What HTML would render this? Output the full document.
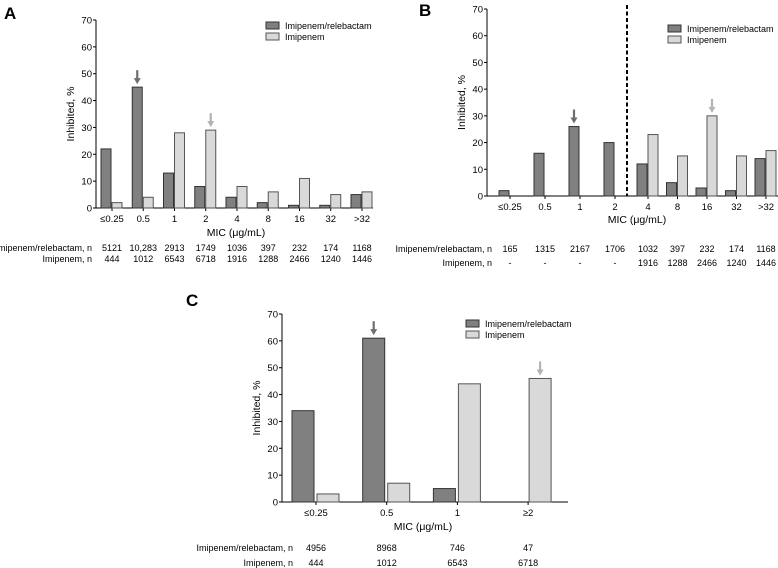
<!DOCTYPE html>
<html><head><meta charset="utf-8"><style>
html,body{margin:0;padding:0;background:#fff;}
svg{display:block;font-family:"Liberation Sans",Arial,sans-serif;}
</style></head><body>
<svg id="fig" width="778" height="568" viewBox="0 0 778 568" xmlns="http://www.w3.org/2000/svg"></svg>
<script>
// Panel A data
const catsA = ["≤0.25","0.5","1","2","4","8","16","32",">32"];
const irA = [22,45,13,8,4,2,1,1,5];
const impA = [2,4,28,29,8,6,11,5,6];
const nIrA = ["5121","10,283","2913","1749","1036","397","232","174","1168"];
const nImpA = ["444","1012","6543","6718","1916","1288","2466","1240","1446"];
// Panel B data
const catsB = ["≤0.25","0.5","1","2","4","8","16","32",">32"];
const irB = [2,16,26,20,12,5,3,2,14];
const impB = [0,0,0,0,23,15,30,15,17];
const nIrB = ["165","1315","2167","1706","1032","397","232","174","1168"];
const nImpB = ["-","-","-","-","1916","1288","2466","1240","1446"];
// Panel C data
const catsC = ["≤0.25","0.5","1","≥2"];
const irC = [34,61,5,0];
const impC = [3,7,44,46];
const nIrC = ["4956","8968","746","47"];
const nImpC = ["444","1012","6543","6718"];
const yTicks = [0,10,20,30,40,50,60,70];

const NS = "http://www.w3.org/2000/svg";
const svg = document.getElementById('fig');
function mk(tag, attrs, parent, text){
  const e = document.createElementNS(NS, tag);
  for (const k in attrs) e.setAttribute(k, attrs[k]);
  if (text !== undefined) e.textContent = text;
  (parent || svg).appendChild(e);
  return e;
}
function arrow(g, x, yTip, color){
  mk('line',{x1:x,y1:yTip-14,x2:x,y2:yTip-4,stroke:color,'stroke-width':2.2},g);
  mk('path',{d:`M${x-3.5},${yTip-6} L${x+3.5},${yTip-6} L${x},${yTip} Z`,fill:color},g);
}
function panel(p){
  const g = mk('g',{});
  
  
  const y = v => p.y0 - (v/70)*(p.y0 - p.y70);
  const cx = i => (p.brk !== undefined && i >= p.brk) ? p.c1 + (i-p.brk)*p.step1 : p.c0 + i*p.step;
  const lbl = mk('text',{x:p.lx,y:p.ly,'font-size':17,'font-weight':'bold',fill:'#000'},g,p.id);
  
  
  const ya = mk('line',{x1:p.ax,y1:p.y70,x2:p.ax,y2:p.y0,stroke:'#000','stroke-width':1},g);
  
  
  yTicks.forEach(t=>{
    mk('line',{x1:p.ax-3,y1:y(t),x2:p.ax,y2:y(t),stroke:'#000'},g);
    const tt = mk('text',{x:p.ax-4,y:y(t)+3.5,'font-size':9.5,'text-anchor':'end'},g,String(t));
    
    
  });
  const yt = mk('text',{x:0,y:0,'font-size':10.5,'text-anchor':'middle',transform:`translate(${p.ax-22},${(p.y0+p.y70)/2}) rotate(-90)`},g,'Inhibited, %');
  
  
  const xa = mk('line',{x1:p.ax,y1:p.y0,x2:p.axEnd,y2:p.y0,stroke:'#000'},g);
  
  
  p.cats.forEach((c,i)=>{
    mk('line',{x1:cx(i),y1:p.y0,x2:cx(i),y2:p.y0+3,stroke:'#000'},g);
    const tl = mk('text',{x:cx(i),y:p.y0+14,'font-size':9.5,'text-anchor':'middle'},g,c);
    
    
    if (p.ir[i] > 0){
      const b = mk('rect',{x:cx(i)-p.gap-p.bw,y:y(p.ir[i]),width:p.bw,height:p.y0-y(p.ir[i]),fill:'#808080',stroke:'#333','stroke-width':1},g);
      
      
    }
    if (p.imp[i] > 0){
      const b = mk('rect',{x:cx(i)+p.gap2,y:y(p.imp[i]),width:p.bw,height:p.y0-y(p.imp[i]),fill:'#d9d9d9',stroke:'#555','stroke-width':1},g);
      
      
    }
    const r1 = mk('text',{x:cx(i),y:p.t1,'font-size':9,'text-anchor':'middle'},g,p.n1[i]);
    
    
    const r2 = mk('text',{x:cx(i),y:p.t2,'font-size':9,'text-anchor':'middle'},g,p.n2[i]);
    
    
  });
  const xt = mk('text',{x:p.mx,y:p.my,'font-size':10.5,'text-anchor':'middle'},g,'MIC (μg/mL)');
  
  
  const h1 = mk('text',{x:p.tlx,y:p.t1,'font-size':9,'text-anchor':'end'},g,'Imipenem/relebactam, n');
  
  
  const h2 = mk('text',{x:p.tlx,y:p.t2,'font-size':9,'text-anchor':'end'},g,'Imipenem, n');
  
  
  const l1 = mk('g',{},g);
  
  
  mk('rect',{x:p.lgx,y:p.lgy-4,width:13,height:7,fill:'#808080',stroke:'#333'},l1);
  mk('text',{x:p.lgx+19,y:p.lgy+3,'font-size':9},l1,'Imipenem/relebactam');
  const l2 = mk('g',{},g);
  
  
  mk('rect',{x:p.lgx,y:p.lgy+7,width:13,height:7,fill:'#d9d9d9',stroke:'#555'},l2);
  mk('text',{x:p.lgx+19,y:p.lgy+14,'font-size':9},l2,'Imipenem');
  const a1 = mk('g',{},g);
  
  
  arrow(a1, cx(p.arIr)-p.gap-p.bw/2, y(p.ir[p.arIr])-3, '#6e6e6e');
  const a2 = mk('g',{},g);
  
  
  arrow(a2, cx(p.arImp)+p.gap2+p.bw/2, y(p.imp[p.arImp])-3, '#b3b3b3');
  return g;
}
panel({id:'A',lx:4,ly:19,ax:96,axEnd:373,y0:208,y70:20,c0:112,step:31.25,bw:10,gap:1,gap2:0,
  cats:catsA,ir:irA,imp:impA,n1:nIrA,n2:nImpA,t1:251,t2:262,tlx:92,mx:236,my:236,lgx:266,lgy:26,arIr:1,arImp:3});
panel({id:'B',lx:419,ly:16,ax:487,axEnd:778,y0:196,y70:9,c0:510,step:35,brk:4,c1:648,step1:29.5,bw:10,gap:1,gap2:0,
  cats:catsB,ir:irB,imp:impB,n1:nIrB,n2:nImpB,t1:252,t2:266,tlx:492,mx:637,my:223,lgx:668,lgy:29,arIr:2,arImp:6});
const dash = mk('line',{x1:627,y1:5,x2:627,y2:196,stroke:'#000','stroke-width':2,'stroke-dasharray':'4,2.5'});


panel({id:'C',lx:186,ly:306,ax:282,axEnd:568,y0:502,y70:314,c0:316,step:70.7,bw:22,gap:2,gap2:1,
  cats:catsC,ir:irC,imp:impC,n1:nIrC,n2:nImpC,t1:551,t2:566,tlx:293,mx:423,my:530,lgx:466,lgy:324,arIr:1,arImp:3});
</script>
</body></html>
